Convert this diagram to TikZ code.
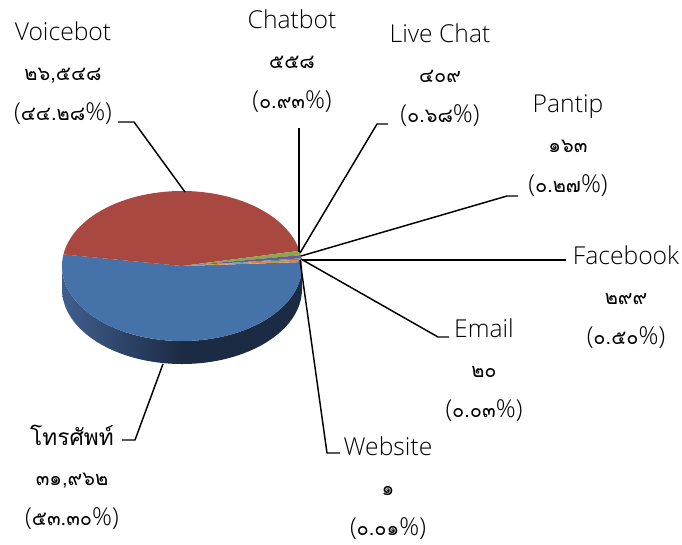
\documentclass[tikz,border=0pt]{standalone}
\usepackage{fontspec}
\setmainfont{Open Sans Light}
\newfontfamily\thaifont[Script=Thai]{Loma}
\usepackage{tikz}
\usetikzlibrary{calc}
\definecolor{pie_blue}{RGB}{69, 114, 168}
\definecolor{pie_red}{RGB}{169, 71, 65}
\definecolor{pie_green}{RGB}{137, 168, 74}
\definecolor{pie_purple}{RGB}{113, 88, 145}
\definecolor{pie_aqua}{RGB}{66, 153, 178}
\definecolor{pie_orange}{RGB}{222, 132, 58}
\definecolor{side_light}{RGB}{64, 95, 142}
\definecolor{side_dark}{RGB}{28, 43, 68}
\tikzstyle{lbl}=[align=center,inner sep=0pt,
  font=\fontsize{18.5}{30}\selectfont]
\tikzstyle{lead}=[draw=black,line width=1.1pt,line join=round]
\newcommand{\rx}{120}
\newcommand{\ry}{75}
\newcommand{\thnum}[1]{{\thaifont\fontsize{15}{30}\selectfont #1}}
\newcommand{\thpc}[1]{(\thnum{#1}\%)}
% one slice of the top face, from angle #2 to angle #3
\newcommand{\slice}[3]{\fill [#1] (0,0) -- ({\rx*cos(#2)},{\ry*sin(#2)})
  arc[start angle=#2,end angle=#3,x radius=\rx,y radius=\ry] -- cycle;}

\begin{document}
\begin{tikzpicture}[x=0.75pt,y=-0.75pt]
    \useasboundingbox (0,0) rectangle (682,544);
    % pie
    \begin{scope}[shift={(182,266)},x=0.75pt,y=0.75pt]
    \shade [left color=side_light,right color=side_dark,middle color=side_dark]
      (-\rx,0) arc[start angle=180,end angle=360,x radius=\rx,y radius=\ry]
      -- (\rx,-23) arc[start angle=360,end angle=180,x radius=\rx,y radius=\ry] -- cycle;
    \slice{pie_blue}{3}{-188.88}
    \slice{pie_red}{171.12}{11.7}
    \slice{pie_green}{11.7}{8.35}
    \slice{pie_purple}{8.35}{5.9}
    \slice{pie_aqua}{5.9}{4.9}
    \slice{pie_orange}{4.9}{3.1}
    \end{scope}

    % labels
    \node [style=lbl] (vb) at (63,73) {Voicebot\\\thnum{๒๖,๕๔๘}\\\thpc{๔๔.๒๘}};
    \node [style=lbl] (ch) at (292,61) {Chatbot\\\thnum{๕๕๘}\\\thpc{๐.๙๓}};
    \node [style=lbl] (lc) at (440,75) {Live Chat\\\thnum{๔๐๙}\\\thpc{๐.๖๘}};
    \node [style=lbl] (pt) at (568,146) {Pantip\\\thnum{๑๖๓}\\\thpc{๐.๒๗}};
    \node [style=lbl] (fb) at (626,297) {Facebook\\\thnum{๒๙๙}\\\thpc{๐.๕๐}};
    \node [style=lbl] (em) at (484,370) {Email\\\thnum{๒๐}\\\thpc{๐.๐๓}};
    \node [style=lbl] (ws) at (388,488) {Website\\\thnum{๑}\\\thpc{๐.๐๑}};
    \node [style=lbl] (tel) at (72,477) {{\thaifont\fontsize{17}{30}\selectfont โทรศัพท์}\\\thnum{๓๑,๙๖๒}\\\thpc{๕๓.๓๐}};

    % leader lines
    \coordinate (vb1) at (118,122);
    \coordinate (vb2) at (134,122);
    \coordinate (vb3) at (185,192);
    \coordinate (ch1) at (299,128);
    \coordinate (ch2) at (299,252);
    \coordinate (lc1) at (388,124);
    \coordinate (lc2) at (377,124);
    \coordinate (lc3) at (300,253);
    \coordinate (pt1) at (518,196);
    \coordinate (pt2) at (507,196);
    \coordinate (pt3) at (301,256);
    \coordinate (fb1) at (566,260);
    \coordinate (fb2) at (302,260);
    \coordinate (em1) at (449,337);
    \coordinate (em2) at (438,337);
    \coordinate (em3) at (301,259);
    \coordinate (ws1) at (340,453);
    \coordinate (ws2) at (327,453);
    \coordinate (ws3) at (300,260);
    \coordinate (tel1) at (122,440);
    \coordinate (tel2) at (135,440);
    \coordinate (tel3) at (163,364);
    \draw [style=lead] (vb1) -- (vb2) -- (vb3);
    \draw [style=lead] (ch1) -- (ch2);
    \draw [style=lead] (lc1) -- (lc2) -- (lc3);
    \draw [style=lead] (pt1) -- (pt2) -- (pt3);
    \draw [style=lead] (fb1) -- (fb2);
    \draw [style=lead] (em1) -- (em2) -- (em3);
    \draw [style=lead] (ws1) -- (ws2) -- (ws3);
    \draw [style=lead] (tel1) -- (tel2) -- (tel3);
\end{tikzpicture}
\end{document}
